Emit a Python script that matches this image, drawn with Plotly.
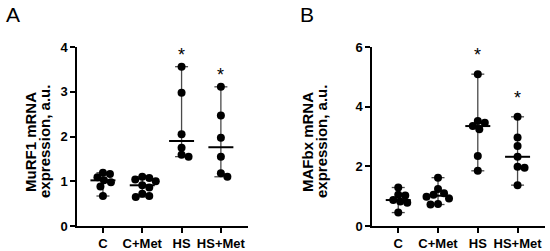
import plotly.graph_objects as go

# dados (mediana com intervalo, pontos individuais)
groups = ["C", "C+Met", "HS", "HS+Met"]

murf1_c = [1.19, 1.16, 1.09, 1.02, 0.98, 0.88, 0.67]
murf1_cmet = [1.10, 1.07, 1.04, 1.00, 0.91, 0.86, 0.72, 0.67, 0.65]
murf1_hs = [3.56, 2.98, 2.05, 1.75, 1.59, 1.55]
murf1_hsmet = [3.11, 2.47, 1.97, 1.55, 1.18, 1.10]

mafbx_c = [1.29, 1.05, 1.02, 0.87, 0.82, 0.78, 0.45]
mafbx_cmet = [1.62, 1.24, 1.10, 1.05, 0.98, 0.92, 0.74, 0.72]
mafbx_hs = [5.09, 3.52, 3.46, 3.35, 3.24, 2.35, 1.85]
mafbx_hsmet = [3.66, 2.97, 2.68, 2.32, 1.99, 1.95, 1.37]

murf1_signif = [False, False, True, True]
mafbx_signif = [False, False, True, True]

murf1_title = ["MuRF1 mRNA", "expression, a.u."]
mafbx_title = ["MAFbx mRNA", "expression, a.u."]

W, H = 550, 251
FONT = "Arial, Liberation Sans, sans-serif"
DOT = 8


def median(v):
    s = sorted(v)
    n = len(s)
    return s[n // 2] if n % 2 else (s[n // 2 - 1] + s[n // 2]) / 2


def beeswarm(values, px_x, px_y, d=DOT):
    """offsets horizontais (em unidades de categoria) sem sobreposição"""
    placed = []
    order = sorted(range(len(values)), key=lambda i: -values[i])
    offs = [0.0] * len(values)
    cands = [0]
    for k in range(1, 30):
        cands += [k * 0.5, -k * 0.5]
    for i in order:
        y = values[i] * px_y
        for c in cands:
            if all((c - px) ** 2 + (y - py) ** 2 >= (d * 0.88) ** 2 for px, py in placed):
                placed.append((c, y))
                offs[i] = c / px_x
                break
    return offs


def add_panel(fig, data, signif, xa, ya, px_x, px_y, star_shift):
    xref = "x" if xa == "xaxis" else "x2"
    yref = "y" if ya == "yaxis" else "y2"
    cap = 6.5 / px_x
    med_w = 12.5 / px_x
    for g, vals in enumerate(data):
        lo, hi, md = min(vals), max(vals), median(vals)
        # linha do intervalo
        fig.add_trace(go.Scatter(
            x=[g, g, None, g - cap, g + cap, None, g - cap, g + cap],
            y=[lo, hi, None, lo, lo, None, hi, hi],
            mode="lines", line=dict(color="#4a4a4a", width=1.3),
            xaxis=xref, yaxis=yref, showlegend=False, hoverinfo="skip"))
        offs = beeswarm(vals, px_x, px_y)
        fig.add_trace(go.Scatter(
            x=[g + o for o in offs], y=vals, mode="markers",
            marker=dict(color="black", size=DOT, line=dict(width=0)),
            xaxis=xref, yaxis=yref, showlegend=False))
        fig.add_trace(go.Scatter(
            x=[g - med_w, g + med_w], y=[md, md], mode="lines",
            line=dict(color="black", width=2),
            xaxis=xref, yaxis=yref, showlegend=False, hoverinfo="skip"))
        if signif[g]:
            fig.add_annotation(
                x=g, y=hi, xref=xref, yref=yref, text="*", showarrow=False,
                yshift=star_shift, font=dict(family=FONT, size=18, color="black"))


fig = go.Figure()

x_range = [-0.66, 3.69]
ya_dom = [1 - 226 / H, 1 - 47 / H]
xa_dom = [77 / W, 248 / W]
xb_dom = [372 / W, 545 / W]
px_xa = (xa_dom[1] - xa_dom[0]) * W / (x_range[1] - x_range[0])
px_xb = (xb_dom[1] - xb_dom[0]) * W / (x_range[1] - x_range[0])
px_y = (ya_dom[1] - ya_dom[0]) * H

add_panel(fig, [murf1_c, murf1_cmet, murf1_hs, murf1_hsmet], murf1_signif,
          "xaxis", "yaxis", px_xa, px_y / 4, 12)
add_panel(fig, [mafbx_c, mafbx_cmet, mafbx_hs, mafbx_hsmet], mafbx_signif,
          "xaxis2", "yaxis2", px_xb, px_y / 6, 19)

tick_font = dict(family=FONT, size=13, color="black", weight="bold")
title_font = dict(family=FONT, size=15, color="black", weight="bold")
common_x = dict(range=x_range, tickmode="array", tickvals=list(range(len(groups))),
                ticktext=groups, showline=True, linecolor="black", linewidth=1.5,
                ticks="outside", ticklen=5, tickwidth=1.5, tickcolor="black",
                showgrid=False, zeroline=False, tickfont=tick_font,
                fixedrange=True, automargin=False)
common_y = dict(showline=True, linecolor="black", linewidth=1.5,
                ticks="outside", ticklen=5, tickwidth=1.5, tickcolor="black",
                showgrid=False, zeroline=False, tickfont=tick_font,
                fixedrange=True, automargin=False)

fig.update_layout(
    width=W, height=H,
    margin=dict(l=0, r=0, t=0, b=0),
    plot_bgcolor="white", paper_bgcolor="white",
    xaxis=dict(domain=xa_dom, anchor="y", **common_x),
    xaxis2=dict(domain=xb_dom, anchor="y2", **common_x),
    yaxis=dict(domain=ya_dom, anchor="x", range=[0, 4], dtick=1, **common_y),
    yaxis2=dict(domain=ya_dom, anchor="x2", range=[0, 6], dtick=2, **common_y),
)

# títulos do eixo y: duas linhas rotacionadas, espaçamento apertado
for lines, xs in [(murf1_title, [30, 44]), (mafbx_title, [307, 321])]:
    for txt, xc in zip(lines, xs):
        fig.add_annotation(x=xc / W, y=1 - 142 / H, xref="paper", yref="paper",
                           text=txt, textangle=-90, showarrow=False,
                           xanchor="center", yanchor="middle", font=title_font)

for lbl, xp in [("A", 4 / W), ("B", 298 / W)]:
    fig.add_annotation(x=xp, y=1 - 1 / H, xref="paper", yref="paper", text=lbl,
                       showarrow=False, xanchor="left", yanchor="top",
                       font=dict(family=FONT, size=21, color="black"))

# sem margem do body para a figura ocupar a janela toda
fig.write_html("out.html", config={"displayModeBar": False},
               post_script="document.body.style.margin='0';")
